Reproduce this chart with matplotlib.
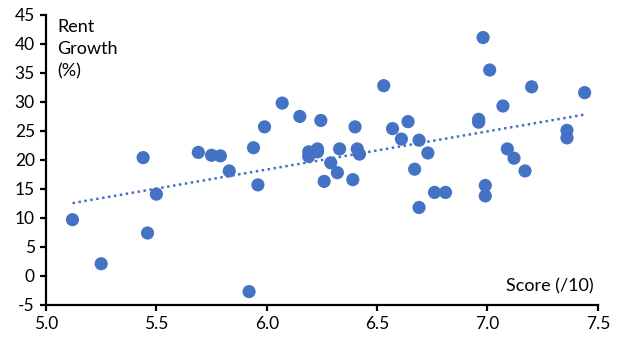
import numpy as np
import matplotlib.pyplot as plt

plt.rcParams['font.family'] = ['Lato', 'DejaVu Sans']
plt.rcParams['axes.unicode_minus'] = False

# Score (/10) vs rent growth (%)
score = [5.12, 5.25, 5.44, 5.46, 5.50, 5.69, 5.75, 5.79, 5.83, 5.92,
         5.96, 5.94, 5.99, 6.07, 6.15, 6.19, 6.19, 6.23, 6.23, 6.245,
         6.26, 6.29, 6.32, 6.33, 6.39, 6.40, 6.41, 6.42, 6.53, 6.57,
         6.61, 6.64, 6.67, 6.69, 6.69, 6.73, 6.76, 6.81, 6.96, 6.96,
         6.98, 6.99, 6.99, 7.01, 7.07, 7.09, 7.12, 7.17, 7.20, 7.36,
         7.36, 7.44]
rent_growth = [9.7, 2.1, 20.4, 7.4, 14.1, 21.3, 20.8, 20.7, 18.1, -2.7,
               15.7, 22.1, 25.7, 29.8, 27.5, 21.4, 20.6, 21.9, 21.4, 26.8,
               16.3, 19.5, 17.8, 21.9, 16.6, 25.7, 21.9, 21.0, 32.8, 25.4,
               23.6, 26.6, 18.4, 23.4, 11.8, 21.2, 14.4, 14.4, 27.0, 26.5,
               41.1, 15.6, 13.8, 35.5, 29.3, 21.9, 20.3, 18.1, 32.6, 25.1,
               23.8, 31.6]

x_ticks = [5.0, 5.5, 6.0, 6.5, 7.0, 7.5]
y_ticks = [-5, 0, 5, 10, 15, 20, 25, 30, 35, 40, 45]

blue = '#4472C4'

fig = plt.figure(figsize=(6.3, 3.55), dpi=100)
ax = fig.add_axes([0.073, 0.141, 0.876, 0.817])

x = np.array(score)
y = np.array(rent_growth)
ax.scatter(x, y, s=90, color=blue, edgecolors='none', zorder=3)

# linear trend line
m, c = np.polyfit(x, y, 1)
xs = np.array([x.min(), x.max()])
ax.plot(xs, m * xs + c, color=blue, linestyle=(0, (1, 1.4)), linewidth=1.8, zorder=2)

ax.set_xlim(5.0, 7.5)
ax.set_ylim(-5, 45)
ax.set_xticks(x_ticks)
ax.set_xticklabels([f'{t:.1f}' for t in x_ticks])
ax.set_yticks(y_ticks)
ax.set_yticklabels([str(t) for t in y_ticks])

for side in ['top', 'right']:
    ax.spines[side].set_visible(False)
for side in ['left', 'bottom']:
    ax.spines[side].set_linewidth(1.6)
ax.tick_params(axis='both', direction='out', length=4, width=1.6, labelsize=12.5,
               colors='black', pad=4)

ax.text(0.02, 0.985, 'Rent\nGrowth\n(%)', transform=ax.transAxes, ha='left', va='top',
        fontsize=13, linespacing=1.45)
ax.text(0.993, 0.035, 'Score (/10)', transform=ax.transAxes, ha='right', va='bottom',
        fontsize=13)

fig.savefig('out.png', dpi=100)
